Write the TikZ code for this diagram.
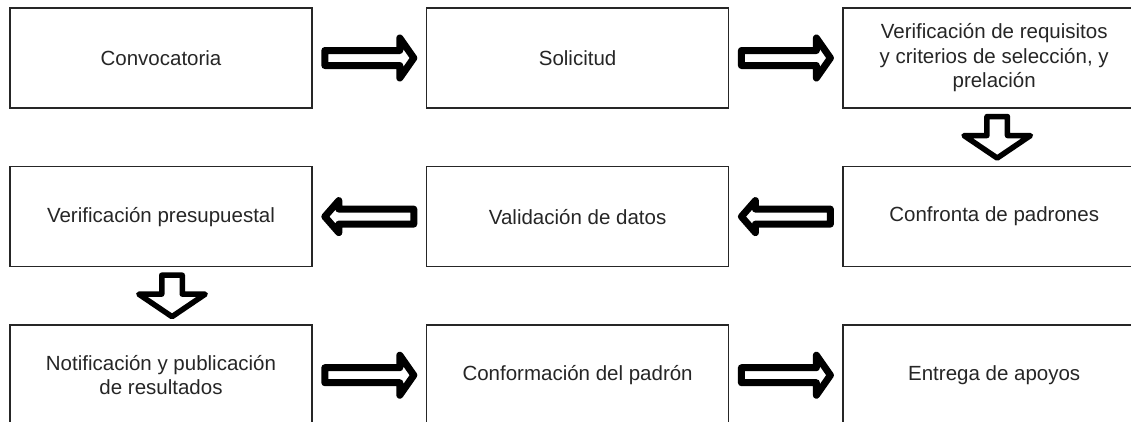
\documentclass[tikz,border=0pt]{standalone}
\usepackage{fontspec}
\setmainfont{Liberation Sans}
\usetikzlibrary{positioning, calc}
\tikzset{%
  % Specifications for style of nodes:
            base/.style = {rectangle, draw=black!85, line width=1.6pt, fill=white,
                           minimum width=302pt, minimum height=100pt, inner sep=0pt,
                           align=center, text=black!85,
                           font=\fontsize{20.5}{24.5}\selectfont},
            hollowArrow/.style = {draw=black, fill=white, line width=7pt, line join=round},
 }
% block arrow between two nodes: from, to, angle, half width of the head
\newcommand{\sideArrow}[4]{%
  \draw[hollowArrow, shift={($(#1)!0.5!(#2)$)}, rotate=#3]
    (-44.5,-7.5) -- (30.5,-7.5) -- (30.5,-#4) -- (44.5,0) -- (30.5,#4) -- (30.5,7.5) -- (-44.5,7.5) -- cycle;
}
% block arrow pointing down: from, to, xshift
\newcommand{\downArrow}[3]{%
  \draw[hollowArrow, line width=5.5pt, shift={($(#1)!0.5!(#2)+(#3,0)$)}]
    (-10.25,20.75) -- (10.25,20.75) -- (10.25,1.75) -- (33.25,1.75) -- (0,-20.75) -- (-33.25,1.75) -- (-10.25,1.75) -- cycle;
}

\begin{document}
\begin{tikzpicture}[x=1pt, y=1pt, node distance=57pt and 113pt]
  \useasboundingbox (0,0) rectangle (1131,-421);
  % Specification of nodes (position, etc.)
     \node (conv) [base] at (161,-58) {Convocatoria};
     \node (sol) [base, right=of conv] {Solicitud};
     \node (verReq) [base, right=of sol] {Verificación de requisitos\\y criterios de selección, y\\prelación};

     \node (confPad) [base, below=of verReq] {Confronta de padrones};
     \node (valDat) [base, left=of confPad] {Validación de datos};
     \node (verPres) [base, left=of valDat] {Verificación presupuestal};

     \node (notif) [base, below=of verPres] {Notificación y publicación\\de resultados};
     \node (confPadron) [base, right=of notif] {Conformación del padrón};
     \node (entrega) [base, right=of confPadron] {Entrega de apoyos};

     \sideArrow{conv.east}{sol.west}{0}{20}
     \sideArrow{sol.east}{verReq.west}{0}{20}
     \downArrow{verReq.south}{confPad.north}{3}
     \sideArrow{confPad.west}{valDat.east}{180}{16}
     \sideArrow{valDat.west}{verPres.east}{180}{16}
     \downArrow{verPres.south}{notif.north}{11}
     \sideArrow{notif.east}{confPadron.west}{0}{20}
     \sideArrow{confPadron.east}{entrega.west}{0}{20}

   \end{tikzpicture}
\end{document}
